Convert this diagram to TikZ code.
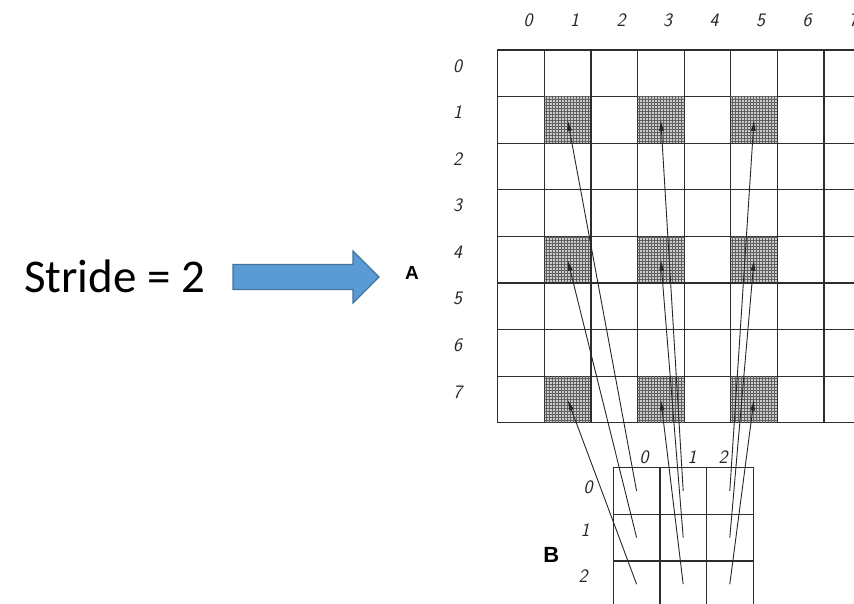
\documentclass[tikz,border=0pt]{standalone}
\usepackage{fontspec}
\usepackage{tikz}
\usetikzlibrary{arrows.meta,patterns}
\newfontfamily\calibrifont{Carlito}
\newfontfamily\arialfont{Liberation Sans}
\definecolor{arrowblue}{RGB}{91,155,213}
\definecolor{arrowedge}{RGB}{65,113,156}
\definecolor{gridline}{RGB}{45,45,45}

\begin{document}
\begin{tikzpicture}[x=1pt, y=-1pt, cell/.style={draw=gridline, line width=1.2pt, minimum size=46.6pt, inner sep=0pt, outer sep=0pt}, hot/.style={cell, fill=gray!40, postaction={pattern=grid, pattern color=gray!75!black}}, idx/.style={font=\fontsize{19}{19}\selectfont\sffamily\itshape, text=black!85, inner sep=0pt}, ptr/.style={-{Latex[length=11pt,width=5pt]}, line width=0.9pt, draw=black!85}]
\useasboundingbox (0,0) rectangle (854,603);
\clip (0,0) rectangle (854,603);
% matrix A, shaded where the filter lands
\foreach \r in {0,...,7} \foreach \c in {0,...,7} {
  \pgfmathtruncatemacro\shade{(mod(\r,3)==1)*(mod(\c,2)==1)*(\c<6)}
  \def\look{cell}\ifnum\shade=1 \def\look{hot}\fi
  \node[\look] (a\r\c) at ({497.7+46.6*(\c+0.5)}, {50+46.6*(\r+0.5)}) {};
}
\foreach \c in {0,...,7} \node[idx] (acol\c) at ({528+46.5*\c}, 20) {\c};
\foreach \r in {0,...,7} \node[idx] (arow\r) at (457.7, {65.8+46.6*\r}) {\r};
% matrix B
\foreach \r in {0,1,2} \foreach \c in {0,1,2}
  \node[cell] (b\r\c) at ({613.3+46.6*(\c+0.5)}, {467.7+46.6*(\r+0.5)}) {};
\node[idx] (bcol0) at (644,457) {0};
\node[idx] (bcol1) at (692,457) {1};
\node[idx] (bcol2) at (723,457) {2};
\node[idx] (brow0) at (588,487) {0};
\node[idx] (brow1) at (585,530) {1};
\node[idx] (brow2) at (583,576) {2};
% labels and the stride arrow
\node[font=\calibrifont\fontsize{47}{50}\selectfont, anchor=base west, inner sep=0pt] (stride) at (24,292.7) {Stride = 2};
\draw[fill=arrowblue, draw=arrowedge, line width=1.2pt] (233,264.5) -- (353,264.5) -- (353,251) -- (379,277) -- (353,303) -- (353,289.5) -- (233,289.5) -- cycle;
\node[font=\arialfont\bfseries\fontsize{19}{19}\selectfont, inner sep=0pt] (nameA) at (412,273) {A};
\node[font=\arialfont\bfseries\fontsize{22}{22}\selectfont, inner sep=0pt] (nameB) at (551.3,554.6) {B};
% each B cell points at its A cell
\foreach \r in {0,1,2} \foreach \c in {0,1,2} {
  \pgfmathtruncatemacro\ar{3*\r+1}
  \pgfmathtruncatemacro\ac{2*\c+1}
  \draw[ptr] (b\r\c.center) -- (a\ar\ac.center);
}
\end{tikzpicture}
\end{document}
